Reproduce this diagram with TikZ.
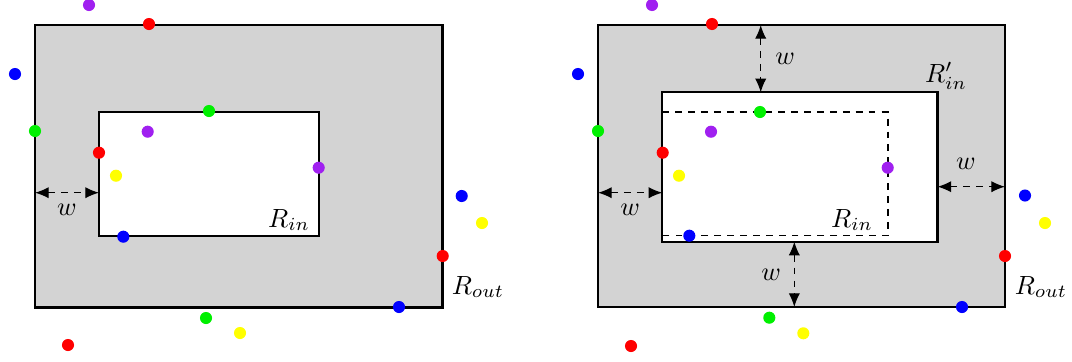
\documentclass[tikz,border=0pt]{standalone}
\usetikzlibrary{arrows.meta}
\definecolor{ringgray}{RGB}{211,211,211}
\definecolor{dotpurple}{RGB}{160,32,240}
\definecolor{dotgreen}{RGB}{0,240,0}
\definecolor{dotblue}{RGB}{0,0,255}
\definecolor{dotred}{RGB}{255,0,0}
\definecolor{dotyellow}{RGB}{255,255,0}
\tikzset{
	box/.style={draw,line width=0.9pt},
	inbox/.style={draw,dashed,line width=0.6pt,dash pattern=on 2.6pt off 2.3pt},
	gap/.style={{Latex[length=5.2pt,width=4.3pt]}-{Latex[length=5.2pt,width=4.3pt]},dashed,line width=0.5pt,dash pattern=on 2.6pt off 2.3pt},
}
\begin{document}
\begin{tikzpicture}[x=0.38pt,y=-0.38pt]
		\useasboundingbox (0,0) rectangle (1072,361);
		% left picture
		\draw [box,fill=ringgray] (35,25) rectangle (442.5,307.5);
		\draw [box,fill=white] (99,111.7) rectangle (318.7,236.3);
		\node (rin) at (289,220) {$R_{in}$};
		\node (rout) at (478,287) {$R_{out}$};
		\coordinate (la) at (35,192.7);
		\coordinate (lb) at (99,192.7);
		\draw [gap] (la) -- node [below=0.7pt] {$w$} (lb);
		% right picture
		\draw [box,fill=ringgray] (598,25) rectangle (1005,307);
		\draw [box,fill=white] (662.3,92.3) rectangle (937.5,241.7);
		\draw [inbox] (662.3,112) -- (887.7,112) -- (887.7,235.7) -- (662.3,235.7);
		\node (rin2) at (852,220) {$R_{in}$};
		\node (rinp) at (946,76) {$R'_{in}$};
		\node (rout2) at (1041,287) {$R_{out}$};
		\coordinate (ra) at (598,192.7);
		\coordinate (rb) at (662.3,192.7);
		\coordinate (ta) at (760.7,25);
		\coordinate (tb) at (760.7,92.3);
		\coordinate (ea) at (937.5,186.7);
		\coordinate (eb) at (1005,186.7);
		\coordinate (ba) at (794.3,241.7);
		\coordinate (bb) at (794.3,307);
		\draw [gap] (ra) -- node [below=0.7pt] {$w$} (rb);
		\draw [gap] (ta) -- node [right=2pt] {$w$} (tb);
		\draw [gap] (ea) -- node [above=3pt,pos=0.42] {$w$} (eb);
		\draw [gap] (ba) -- node [left=1.5pt] {$w$} (bb);
		% points
		\foreach \x/\y/\c in {89/5/dotpurple,149/24/dotred,15/74/dotblue,35/131/dotgreen,
			209/111/dotgreen,147.7/131.7/dotpurple,99/152.7/dotred,116/175.7/dotyellow,
			318.7/167.7/dotpurple,123.3/236.7/dotblue,461.7/196/dotblue,482/223/dotyellow,
			442.7/256/dotred,399/307/dotblue,206/318/dotgreen,240/333/dotyellow,68/345/dotred,
			652/5/dotpurple,712/24/dotred,578/74/dotblue,598/131/dotgreen,
			760/112/dotgreen,711/131.7/dotpurple,662.7/152.7/dotred,679/175.7/dotyellow,
			887.7/167.7/dotpurple,689.3/235.7/dotblue,1025/195.5/dotblue,1045/223/dotyellow,
			1005/256/dotred,962/307/dotblue,769.3/317.7/dotgreen,803.3/333.3/dotyellow,631/346/dotred}
			\fill [\c] (\x,\y) circle (2.3pt);
	\end{tikzpicture}
\end{document}
